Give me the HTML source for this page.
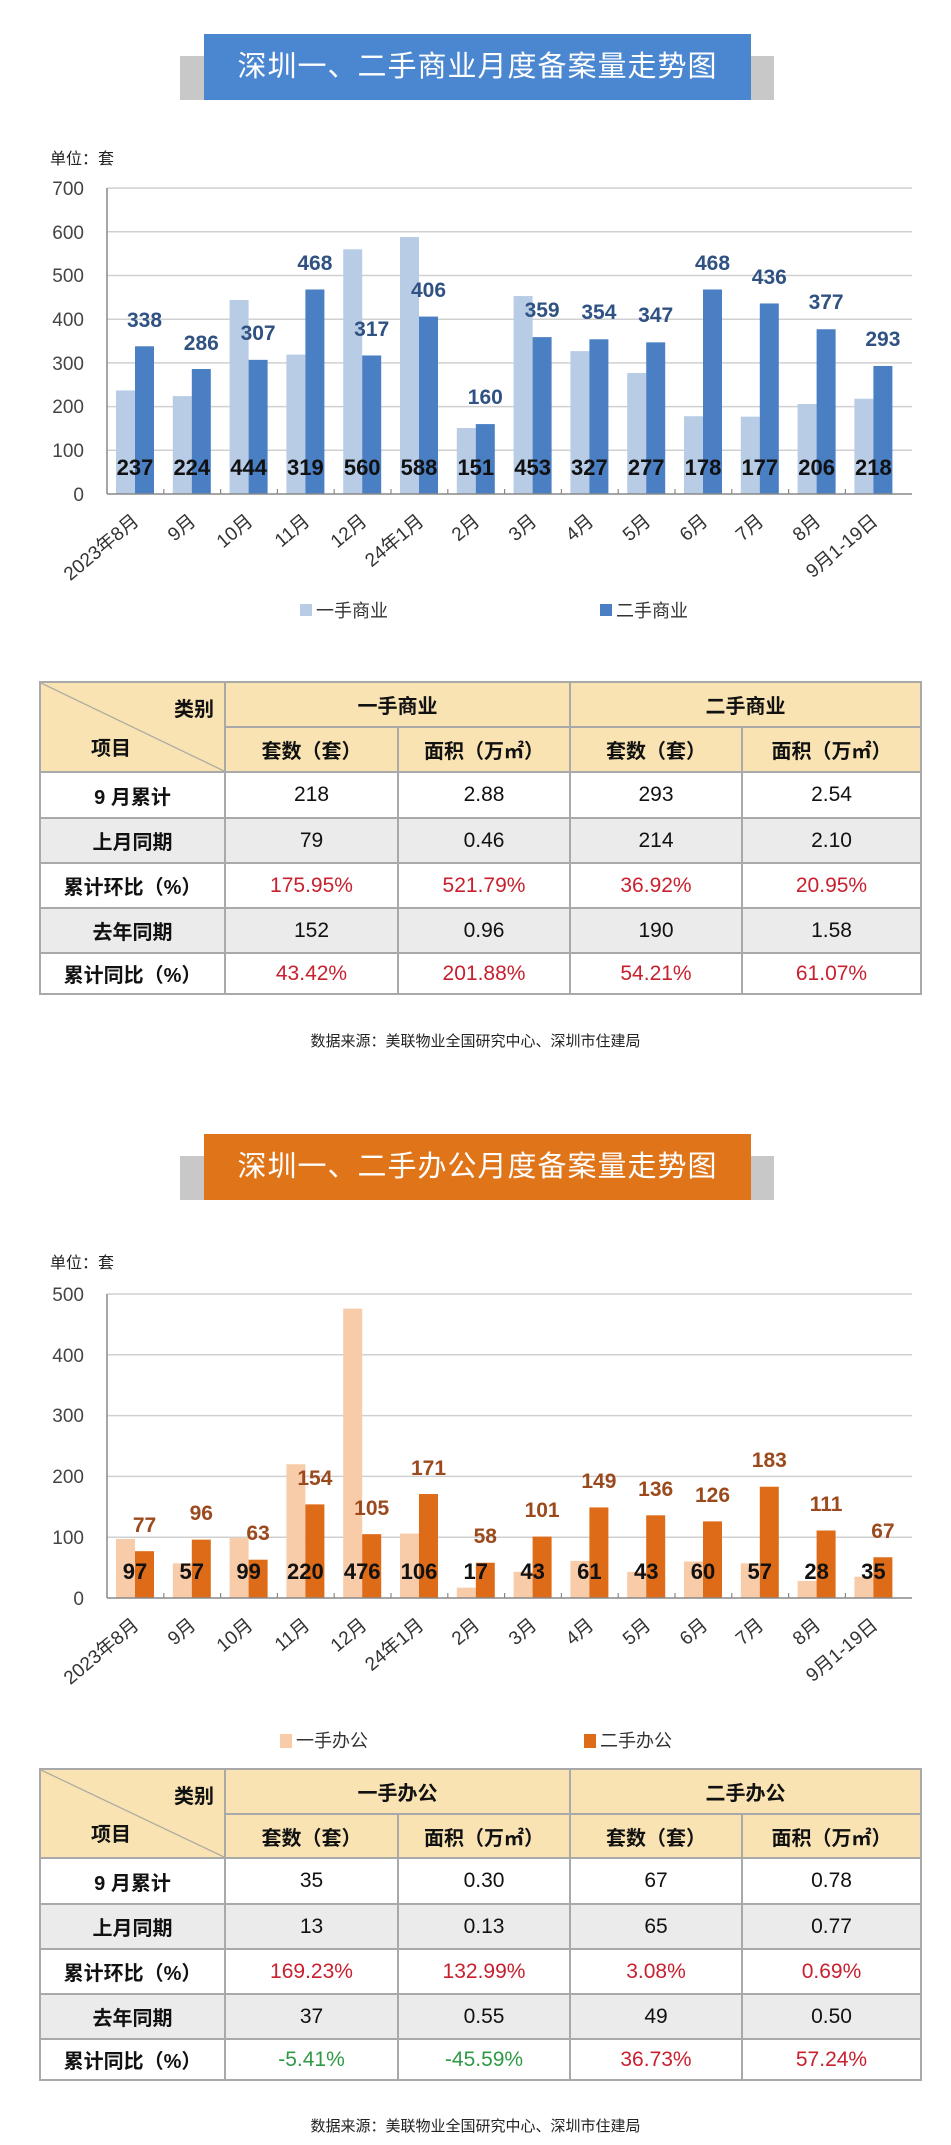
<!DOCTYPE html>
<html><head><meta charset="utf-8">
<style>
html,body{margin:0;padding:0;background:#fff;}
body{width:951px;height:2145px;position:relative;overflow:hidden;font-family:"Liberation Sans","Noto Sans CJK SC",sans-serif;}
.ttl{position:absolute;left:204px;width:547px;height:66px;color:#fff;font-size:29px;line-height:66px;text-align:center;letter-spacing:1px;}
.shd{position:absolute;left:180px;width:594px;height:44px;background:#c8c8c8;}
table{position:absolute;left:39px;width:881px;border-collapse:collapse;table-layout:fixed;}
td{border:2px solid #a9a9a9;text-align:center;font-size:20px;font-weight:bold;color:#111;padding:0;font-family:"Liberation Sans Narrow","Liberation Sans","Noto Sans CJK SC",sans-serif;}
td.h{background:#f9e3b3;}
tr.g td{background:#ebebeb;}
.r{color:#c8202e!important;font-weight:normal!important;font-size:21px!important;}
.gr{color:#2f9a45!important;font-weight:normal!important;font-size:21px!important;}
.n{font-weight:normal;font-size:21px!important;}
.diag{background:#f9e3b3 linear-gradient(to top right,transparent calc(50% - 1px),#9a9a9a 50%,transparent calc(50% + 1px));position:relative;}
.src{position:absolute;left:0;width:951px;text-align:center;font-size:15px;color:#222;}
</style></head><body>

<div class="shd" style="top:56px"></div>
<div class="ttl" style="top:34px;background:#4b87d1">深圳一、二手商业月度备案量走势图</div>

<svg style="position:absolute;left:0;top:0" width="951" height="660">
<text x="50" y="164" font-size="16" fill="#222" font-family="Liberation Sans,Noto Sans CJK SC,sans-serif">单位：套</text>
<g stroke="#d0d0d0" stroke-width="1.5">
<line x1="107" y1="450.3" x2="912" y2="450.3"/><line x1="107" y1="406.6" x2="912" y2="406.6"/><line x1="107" y1="362.9" x2="912" y2="362.9"/><line x1="107" y1="319.2" x2="912" y2="319.2"/><line x1="107" y1="275.5" x2="912" y2="275.5"/><line x1="107" y1="231.8" x2="912" y2="231.8"/><line x1="107" y1="188.1" x2="912" y2="188.1"/>
</g>
<g font-size="19" fill="#444" text-anchor="end" font-family="Liberation Sans,sans-serif">
<text x="84" y="501">0</text><text x="84" y="457">100</text><text x="84" y="413">200</text><text x="84" y="370">300</text><text x="84" y="326">400</text><text x="84" y="282">500</text><text x="84" y="239">600</text><text x="84" y="195">700</text>
</g>
<g transform="translate(0,494) scale(1,-0.437)">
<g fill="#b8cce6">
<rect x="116" y="0" width="19" height="237"/><rect x="172.8" y="0" width="19" height="224"/><rect x="229.6" y="0" width="19" height="444"/><rect x="286.4" y="0" width="19" height="319"/><rect x="343.2" y="0" width="19" height="560"/><rect x="400" y="0" width="19" height="588"/><rect x="456.8" y="0" width="19" height="151"/><rect x="513.6" y="0" width="19" height="453"/><rect x="570.4" y="0" width="19" height="327"/><rect x="627.2" y="0" width="19" height="277"/><rect x="684" y="0" width="19" height="178"/><rect x="740.8" y="0" width="19" height="177"/><rect x="797.6" y="0" width="19" height="206"/><rect x="854.4" y="0" width="19" height="218"/>
</g>
<g fill="#4a7fc3">
<rect x="135" y="0" width="19" height="338"/><rect x="191.8" y="0" width="19" height="286"/><rect x="248.6" y="0" width="19" height="307"/><rect x="305.4" y="0" width="19" height="468"/><rect x="362.2" y="0" width="19" height="317"/><rect x="419" y="0" width="19" height="406"/><rect x="475.8" y="0" width="19" height="160"/><rect x="532.6" y="0" width="19" height="359"/><rect x="589.4" y="0" width="19" height="354"/><rect x="646.2" y="0" width="19" height="347"/><rect x="703" y="0" width="19" height="468"/><rect x="759.8" y="0" width="19" height="436"/><rect x="816.6" y="0" width="19" height="377"/><rect x="873.4" y="0" width="19" height="293"/>
</g>
</g>
<line x1="107" y1="494" x2="912" y2="494" stroke="#888" stroke-width="1.5"/>
<line x1="107" y1="188" x2="107" y2="494" stroke="#888" stroke-width="1.5"/>
<g stroke="#888" stroke-width="1.2"><line x1="163.8" y1="494" x2="163.8" y2="489"/><line x1="220.6" y1="494" x2="220.6" y2="489"/><line x1="277.4" y1="494" x2="277.4" y2="489"/><line x1="334.2" y1="494" x2="334.2" y2="489"/><line x1="391" y1="494" x2="391" y2="489"/><line x1="447.8" y1="494" x2="447.8" y2="489"/><line x1="504.6" y1="494" x2="504.6" y2="489"/><line x1="561.4" y1="494" x2="561.4" y2="489"/><line x1="618.2" y1="494" x2="618.2" y2="489"/><line x1="675" y1="494" x2="675" y2="489"/><line x1="731.8" y1="494" x2="731.8" y2="489"/><line x1="788.6" y1="494" x2="788.6" y2="489"/><line x1="845.4" y1="494" x2="845.4" y2="489"/></g>
<g font-size="21" font-weight="bold" fill="#2f5283" text-anchor="middle" font-family="Liberation Sans Narrow,Liberation Sans,sans-serif">
<text x="144.5" y="327">338</text><text x="201.3" y="350">286</text><text x="258.1" y="340">307</text><text x="314.9" y="270">468</text><text x="371.7" y="336">317</text><text x="428.5" y="297">406</text><text x="485.3" y="404">160</text><text x="542.1" y="317">359</text><text x="598.9" y="319">354</text><text x="655.7" y="322">347</text><text x="712.5" y="270">468</text><text x="769.3" y="284">436</text><text x="826.1" y="309">377</text><text x="882.9" y="346">293</text>
</g>
<g font-size="22" font-weight="bold" fill="#111" text-anchor="middle" font-family="Liberation Sans Narrow,Liberation Sans,sans-serif">
<text x="135" y="475">237</text><text x="191.8" y="475">224</text><text x="248.6" y="475">444</text><text x="305.4" y="475">319</text><text x="362.2" y="475">560</text><text x="419" y="475">588</text><text x="475.8" y="475">151</text><text x="532.6" y="475">453</text><text x="589.4" y="475">327</text><text x="646.2" y="475">277</text><text x="703" y="475">178</text><text x="759.8" y="475">177</text><text x="816.6" y="475">206</text><text x="873.4" y="475">218</text>
</g>
<g font-size="19" fill="#333" text-anchor="end" font-family="Liberation Sans,Noto Sans CJK SC,sans-serif">
<text transform="translate(140,523) rotate(-40)">2023年8月</text><text transform="translate(197,523) rotate(-40)">9月</text><text transform="translate(254,523) rotate(-40)">10月</text><text transform="translate(311,523) rotate(-40)">11月</text><text transform="translate(368,523) rotate(-40)">12月</text><text transform="translate(425,523) rotate(-40)">24年1月</text><text transform="translate(481,523) rotate(-40)">2月</text><text transform="translate(538,523) rotate(-40)">3月</text><text transform="translate(595,523) rotate(-40)">4月</text><text transform="translate(652,523) rotate(-40)">5月</text><text transform="translate(709,523) rotate(-40)">6月</text><text transform="translate(765,523) rotate(-40)">7月</text><text transform="translate(822,523) rotate(-40)">8月</text><text transform="translate(879,523) rotate(-40)">9月1-19日</text>
</g>
<rect x="300" y="604" width="12" height="12" fill="#b8cce6"/>
<text x="316" y="617" font-size="18" fill="#333" font-family="Liberation Sans,Noto Sans CJK SC,sans-serif">一手商业</text>
<rect x="600" y="604" width="12" height="12" fill="#4a7fc3"/>
<text x="616" y="617" font-size="18" fill="#333" font-family="Liberation Sans,Noto Sans CJK SC,sans-serif">二手商业</text>
</svg>

<table style="top:681px">
<colgroup><col style="width:185px"><col style="width:173px"><col style="width:172px"><col style="width:172px"><col style="width:179px"></colgroup>
<tr style="height:45px"><td class="diag" rowspan="2" style="position:relative"><span style="position:absolute;right:10px;top:10px">类别</span><span style="position:absolute;left:50px;bottom:10px">项目</span></td><td class="h" colspan="2">一手商业</td><td class="h" colspan="2">二手商业</td></tr>
<tr style="height:45px"><td class="h">套数（套）</td><td class="h">面积（万㎡）</td><td class="h">套数（套）</td><td class="h">面积（万㎡）</td></tr>
<tr style="height:46px"><td>9 月累计</td><td class="n">218</td><td class="n">2.88</td><td class="n">293</td><td class="n">2.54</td></tr>
<tr class="g" style="height:45px"><td>上月同期</td><td class="n">79</td><td class="n">0.46</td><td class="n">214</td><td class="n">2.10</td></tr>
<tr style="height:45px"><td>累计环比（%）</td><td class="r">175.95%</td><td class="r">521.79%</td><td class="r">36.92%</td><td class="r">20.95%</td></tr>
<tr class="g" style="height:45px"><td>去年同期</td><td class="n">152</td><td class="n">0.96</td><td class="n">190</td><td class="n">1.58</td></tr>
<tr style="height:41px"><td>累计同比（%）</td><td class="r">43.42%</td><td class="r">201.88%</td><td class="r">54.21%</td><td class="r">61.07%</td></tr>
</table>
<div class="src" style="top:1030px">数据来源：美联物业全国研究中心、深圳市住建局</div>

<div class="shd" style="top:1156px"></div>
<div class="ttl" style="top:1134px;background:#e07419">深圳一、二手办公月度备案量走势图</div>

<svg style="position:absolute;left:0;top:0" width="951" height="1760">
<text x="50" y="1268" font-size="16" fill="#222" font-family="Liberation Sans,Noto Sans CJK SC,sans-serif">单位：套</text>
<g stroke="#d0d0d0" stroke-width="1.5">
<line x1="107" y1="1537.2" x2="912" y2="1537.2"/><line x1="107" y1="1476.4" x2="912" y2="1476.4"/><line x1="107" y1="1415.6" x2="912" y2="1415.6"/><line x1="107" y1="1354.8" x2="912" y2="1354.8"/><line x1="107" y1="1294" x2="912" y2="1294"/>
</g>
<g font-size="19" fill="#444" text-anchor="end" font-family="Liberation Sans,sans-serif">
<text x="84" y="1605">0</text><text x="84" y="1544">100</text><text x="84" y="1483">200</text><text x="84" y="1422">300</text><text x="84" y="1362">400</text><text x="84" y="1301">500</text>
</g>
<g transform="translate(0,1598) scale(1,-0.608)">
<g fill="#f8cba9">
<rect x="116" y="0" width="19" height="97"/><rect x="172.8" y="0" width="19" height="57"/><rect x="229.6" y="0" width="19" height="99"/><rect x="286.4" y="0" width="19" height="220"/><rect x="343.2" y="0" width="19" height="476"/><rect x="400" y="0" width="19" height="106"/><rect x="456.8" y="0" width="19" height="17"/><rect x="513.6" y="0" width="19" height="43"/><rect x="570.4" y="0" width="19" height="61"/><rect x="627.2" y="0" width="19" height="43"/><rect x="684" y="0" width="19" height="60"/><rect x="740.8" y="0" width="19" height="57"/><rect x="797.6" y="0" width="19" height="28"/><rect x="854.4" y="0" width="19" height="35"/>
</g>
<g fill="#de6b17">
<rect x="135" y="0" width="19" height="77"/><rect x="191.8" y="0" width="19" height="96"/><rect x="248.6" y="0" width="19" height="63"/><rect x="305.4" y="0" width="19" height="154"/><rect x="362.2" y="0" width="19" height="105"/><rect x="419" y="0" width="19" height="171"/><rect x="475.8" y="0" width="19" height="58"/><rect x="532.6" y="0" width="19" height="101"/><rect x="589.4" y="0" width="19" height="149"/><rect x="646.2" y="0" width="19" height="136"/><rect x="703" y="0" width="19" height="126"/><rect x="759.8" y="0" width="19" height="183"/><rect x="816.6" y="0" width="19" height="111"/><rect x="873.4" y="0" width="19" height="67"/>
</g>
</g>
<line x1="107" y1="1598" x2="912" y2="1598" stroke="#888" stroke-width="1.5"/>
<line x1="107" y1="1294" x2="107" y2="1598" stroke="#888" stroke-width="1.5"/>
<g stroke="#888" stroke-width="1.2"><line x1="163.8" y1="1598" x2="163.8" y2="1593"/><line x1="220.6" y1="1598" x2="220.6" y2="1593"/><line x1="277.4" y1="1598" x2="277.4" y2="1593"/><line x1="334.2" y1="1598" x2="334.2" y2="1593"/><line x1="391" y1="1598" x2="391" y2="1593"/><line x1="447.8" y1="1598" x2="447.8" y2="1593"/><line x1="504.6" y1="1598" x2="504.6" y2="1593"/><line x1="561.4" y1="1598" x2="561.4" y2="1593"/><line x1="618.2" y1="1598" x2="618.2" y2="1593"/><line x1="675" y1="1598" x2="675" y2="1593"/><line x1="731.8" y1="1598" x2="731.8" y2="1593"/><line x1="788.6" y1="1598" x2="788.6" y2="1593"/><line x1="845.4" y1="1598" x2="845.4" y2="1593"/></g>
<g font-size="21" font-weight="bold" fill="#9b4a1e" text-anchor="middle" font-family="Liberation Sans Narrow,Liberation Sans,sans-serif">
<text x="144.5" y="1532">77</text><text x="201.3" y="1520">96</text><text x="258.1" y="1540">63</text><text x="314.9" y="1485">154</text><text x="371.7" y="1515">105</text><text x="428.5" y="1475">171</text><text x="485.3" y="1543">58</text><text x="542.1" y="1517">101</text><text x="598.9" y="1488">149</text><text x="655.7" y="1496">136</text><text x="712.5" y="1502">126</text><text x="769.3" y="1467">183</text><text x="826.1" y="1511">111</text><text x="882.9" y="1538">67</text>
</g>
<g font-size="22" font-weight="bold" fill="#111" text-anchor="middle" font-family="Liberation Sans Narrow,Liberation Sans,sans-serif">
<text x="135" y="1579">97</text><text x="191.8" y="1579">57</text><text x="248.6" y="1579">99</text><text x="305.4" y="1579">220</text><text x="362.2" y="1579">476</text><text x="419" y="1579">106</text><text x="475.8" y="1579">17</text><text x="532.6" y="1579">43</text><text x="589.4" y="1579">61</text><text x="646.2" y="1579">43</text><text x="703" y="1579">60</text><text x="759.8" y="1579">57</text><text x="816.6" y="1579">28</text><text x="873.4" y="1579">35</text>
</g>
<g font-size="19" fill="#333" text-anchor="end" font-family="Liberation Sans,Noto Sans CJK SC,sans-serif">
<text transform="translate(140,1627) rotate(-40)">2023年8月</text><text transform="translate(197,1627) rotate(-40)">9月</text><text transform="translate(254,1627) rotate(-40)">10月</text><text transform="translate(311,1627) rotate(-40)">11月</text><text transform="translate(368,1627) rotate(-40)">12月</text><text transform="translate(425,1627) rotate(-40)">24年1月</text><text transform="translate(481,1627) rotate(-40)">2月</text><text transform="translate(538,1627) rotate(-40)">3月</text><text transform="translate(595,1627) rotate(-40)">4月</text><text transform="translate(652,1627) rotate(-40)">5月</text><text transform="translate(709,1627) rotate(-40)">6月</text><text transform="translate(765,1627) rotate(-40)">7月</text><text transform="translate(822,1627) rotate(-40)">8月</text><text transform="translate(879,1627) rotate(-40)">9月1-19日</text>
</g>
<rect x="280" y="1734" width="12" height="14" fill="#f8cba9"/>
<text x="296" y="1747" font-size="18" fill="#333" font-family="Liberation Sans,Noto Sans CJK SC,sans-serif">一手办公</text>
<rect x="584" y="1734" width="12" height="14" fill="#de6b17"/>
<text x="600" y="1747" font-size="18" fill="#333" font-family="Liberation Sans,Noto Sans CJK SC,sans-serif">二手办公</text>
</svg>

<table style="top:1768px">
<colgroup><col style="width:185px"><col style="width:173px"><col style="width:172px"><col style="width:172px"><col style="width:179px"></colgroup>
<tr style="height:45px"><td class="diag" rowspan="2" style="position:relative"><span style="position:absolute;right:10px;top:10px">类别</span><span style="position:absolute;left:50px;bottom:10px">项目</span></td><td class="h" colspan="2">一手办公</td><td class="h" colspan="2">二手办公</td></tr>
<tr style="height:44px"><td class="h">套数（套）</td><td class="h">面积（万㎡）</td><td class="h">套数（套）</td><td class="h">面积（万㎡）</td></tr>
<tr style="height:46px"><td>9 月累计</td><td class="n">35</td><td class="n">0.30</td><td class="n">67</td><td class="n">0.78</td></tr>
<tr class="g" style="height:45px"><td>上月同期</td><td class="n">13</td><td class="n">0.13</td><td class="n">65</td><td class="n">0.77</td></tr>
<tr style="height:45px"><td>累计环比（%）</td><td class="r">169.23%</td><td class="r">132.99%</td><td class="r">3.08%</td><td class="r">0.69%</td></tr>
<tr class="g" style="height:45px"><td>去年同期</td><td class="n">37</td><td class="n">0.55</td><td class="n">49</td><td class="n">0.50</td></tr>
<tr style="height:41px"><td>累计同比（%）</td><td class="gr">-5.41%</td><td class="gr">-45.59%</td><td class="r">36.73%</td><td class="r">57.24%</td></tr>
</table>
<div class="src" style="top:2115px">数据来源：美联物业全国研究中心、深圳市住建局</div>
</body></html>
